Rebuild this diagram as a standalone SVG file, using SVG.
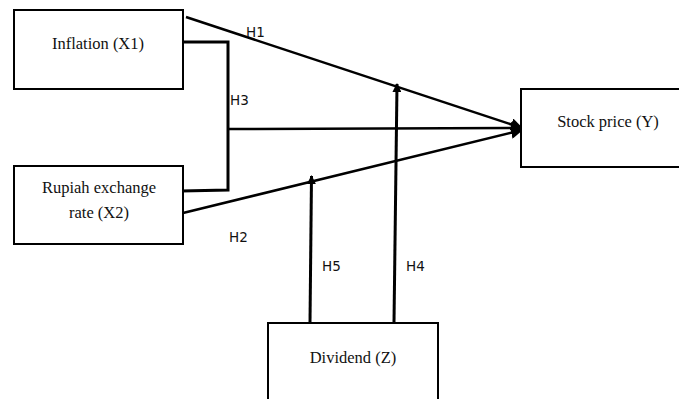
<svg xmlns="http://www.w3.org/2000/svg" width="679" height="399" viewBox="0 0 679 399">
<style>
.box{fill:#fff;stroke:#000;stroke-width:2}
.t{font-family:"Liberation Serif",serif;font-size:16.5px;fill:#111;text-anchor:middle}
.h{font-family:"DejaVu Sans",sans-serif;font-size:13.5px;fill:#111}
.c{fill:none;stroke:#000;stroke-width:2.5}
.v{fill:none;stroke:#000;stroke-width:3}
</style>
<defs>
<marker id="a" viewBox="0 0 10 10" refX="9" refY="5" markerWidth="5" markerHeight="5" orient="auto" markerUnits="strokeWidth"><path d="M0,0L10,5L0,10z" fill="#000"/></marker>
<marker id="b" viewBox="0 0 10 10" refX="9" refY="5" markerWidth="3" markerHeight="3" orient="auto" markerUnits="strokeWidth"><path d="M0,0L10,5L0,10z" fill="#000"/></marker>
</defs>
<g id="connectors">
<path class="c" d="M186,17L522,128" marker-end="url(#a)"/>
<path class="v" d="M183,42L228,42L228,190L181,191"/>
<path class="c" d="M228,129L522,128" marker-end="url(#a)"/>
<path class="c" d="M183,213L522,130" marker-end="url(#a)"/>
<path class="v" d="M310,323L311.5,176" marker-end="url(#b)"/>
<path class="v" d="M394,323L397,84" marker-end="url(#b)"/>
</g>
<g id="labels">
<text class="h" x="246" y="37">H1</text>
<text class="h" x="230" y="105">H3</text>
<text class="h" x="229" y="242">H2</text>
<text class="h" x="322" y="271">H5</text>
<text class="h" x="406" y="271">H4</text>
</g>
<g id="inflation"><rect class="box" x="14" y="10" width="169" height="79"/><text class="t" x="98" y="49">Inflation (X1)</text></g>
<g id="rupiah"><rect class="box" x="14" y="166" width="169" height="78"/><text class="t" x="99" y="193">Rupiah exchange</text><text class="t" x="99" y="218">rate (X2)</text></g>
<g id="stock"><rect class="box" x="521" y="89" width="170" height="78"/><text class="t" x="608" y="127">Stock price (Y)</text></g>
<g id="dividend"><rect class="box" x="268" y="323" width="170" height="90"/><text class="t" x="353" y="363">Dividend (Z)</text></g>
</svg>
